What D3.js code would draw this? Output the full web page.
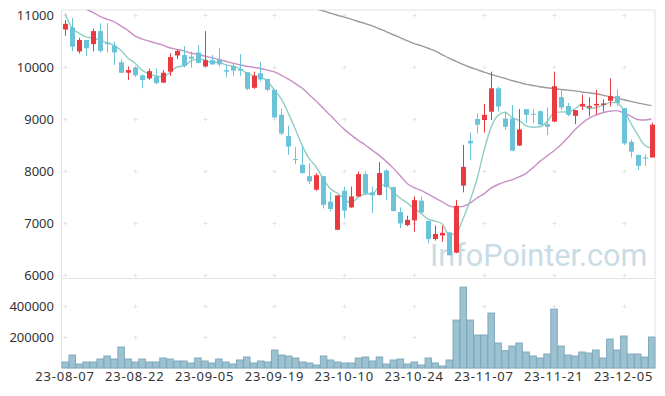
<!DOCTYPE html>
<html>
<head>
<meta charset="utf-8" />
<style>
body { margin: 0; background: #fff; }
svg { display: block; font-family: "Noto Sans", sans-serif; }
</style>
<script src="https://cdnjs.cloudflare.com/ajax/libs/d3/7.8.5/d3.min.js"></script>
</head>
<body>
<div id="chart"></div>
<script>
var dates = [
  "23-08-07","23-08-08","23-08-09","23-08-10","23-08-11","23-08-14","23-08-16","23-08-17","23-08-18","23-08-21",
  "23-08-22","23-08-23","23-08-24","23-08-25","23-08-28","23-08-29","23-08-30","23-08-31","23-09-01","23-09-04",
  "23-09-05","23-09-06","23-09-07","23-09-08","23-09-11","23-09-12","23-09-13","23-09-14","23-09-15","23-09-18",
  "23-09-19","23-09-20","23-09-21","23-09-22","23-09-25","23-09-26","23-09-27","23-10-04","23-10-05","23-10-06",
  "23-10-10","23-10-11","23-10-12","23-10-13","23-10-16","23-10-17","23-10-18","23-10-19","23-10-20","23-10-23",
  "23-10-24","23-10-25","23-10-26","23-10-27","23-10-30","23-10-31","23-11-01","23-11-02","23-11-03","23-11-06",
  "23-11-07","23-11-08","23-11-09","23-11-10","23-11-13","23-11-14","23-11-15","23-11-16","23-11-17","23-11-20",
  "23-11-21","23-11-22","23-11-23","23-11-24","23-11-27","23-11-28","23-11-29","23-11-30","23-12-01","23-12-04",
  "23-12-05","23-12-06","23-12-07","23-12-08","23-12-11"
];

var open = [10720,10760,10300,10520,10440,10690,10470,10410,10090,9890,
  9990,9840,9780,9810,9700,9910,10220,10230,10200,10280,
  10010,10130,10150,9940,10020,9960,9900,9600,9880,9770,
  9560,9080,8670,8230,8120,7900,7640,7900,7410,6870,
  7620,7300,7510,7940,7590,7540,8010,7690,7210,6960,
  7050,7430,7040,6690,6760,6820,6430,7720,8580,9000,
  8980,9140,9590,9010,9010,8490,9190,9100,9150,8900,
  8950,9420,9250,9060,9240,9220,9260,9270,9350,9440,
  9210,8560,8310,8260,8260];
var high = [10900,10940,10560,10520,10740,10840,10840,10490,10150,10010,
  10010,9860,9970,9970,9940,10260,10340,10400,10300,10420,
  10690,10230,10360,10040,10070,10250,9900,9910,10100,9770,
  9560,9200,8870,8460,8480,8150,7960,7900,7600,7530,
  7700,7700,7990,7990,7700,8170,8030,7700,7300,7140,
  7510,7510,7040,6950,6950,6830,7440,8500,8740,9110,
  9290,9910,9620,9140,9270,9190,9190,9190,9160,9220,
  9910,9570,9310,9170,9470,9420,9560,9380,9780,9570,
  9210,8600,8310,8320,8930];
var low = [10600,10300,10260,10210,10300,10280,10280,10040,9880,9750,
  9810,9590,9750,9670,9690,9830,10150,9990,9990,10070,
  10000,10040,10010,9800,9830,9830,9550,9580,9720,9540,
  9010,8690,8310,8130,7950,7750,7620,7280,7220,6860,
  7090,7290,7500,7540,7190,7530,7440,7220,6900,6940,
  6830,7190,6610,6660,6640,6370,6420,7590,8210,8720,
  8740,8980,9140,8790,8390,8480,8920,8920,8880,8690,
  8940,9170,9050,8900,9170,9050,9080,9140,9240,9240,
  8500,8260,8020,8100,8260];
var close = [10830,10390,10520,10360,10690,10310,10440,10280,9890,9940,
  9840,9750,9920,9690,9890,10190,10310,10020,10160,10080,
  10130,10050,10050,9910,9930,9930,9580,9830,9760,9560,
  9030,8720,8470,8210,7960,7800,7920,7350,7270,7530,
  7240,7510,7940,7570,7530,7960,7690,7230,6990,7060,
  7440,7200,6690,6790,6810,6380,7330,8080,8530,8890,
  9080,9590,9240,8850,8390,8800,9080,9090,8890,8850,
  9630,9220,9080,9170,9290,9250,9290,9300,9440,9310,
  8530,8370,8100,8240,8890];
var volume = [38700,83850,25800,38700,38700,58000,77400,58000,135450,58000,
  38700,58000,38700,38700,64500,58000,45150,45150,32250,64500,
  45150,32250,58000,38700,25800,51600,71000,32250,45150,38700,
  116000,83850,77400,64500,38700,32250,19350,77400,51600,38700,
  32250,32250,64500,71000,45150,71000,25800,51600,58000,25800,
  38700,19350,64500,32250,12900,51600,309600,522450,309600,212850,
  212850,354750,161250,111800,141900,161250,103200,77400,64500,90300,
  380550,141900,83850,77400,103200,96750,116100,64500,187050,116100,
  206400,90300,90300,70950,199950];

var ma5 = [11030,10750,10650,10580,10558,10520,10464,10416,10322,10172,
  10078,9940,9868,9828,9818,9888,10000,10020,10114,10152,
  10140,10088,10094,10044,10014,9974,9880,9836,9806,9732,
  9552,9380,9108,8798,8478,8232,8072,7848,7660,7574,
  7462,7380,7498,7558,7558,7702,7738,7596,7480,7386,
  7282,7184,7076,7036,6986,6774,6800,7078,7426,7842,
  8382,8834,9066,9130,9030,8974,8872,8842,8850,8942,
  9108,9136,9134,9190,9278,9202,9216,9260,9314,9318,
  9174,8930,8700,8500,8440];
var ma20 = [11250,11200,11140,11110,11050,10975,10920,10872,10790,10705,
  10600,10540,10500,10460,10420,10370,10340,10310,10265,10245,
  10210,10180,10145,10110,10075,10042,10015,9995,9972,9940,
  9905,9840,9765,9680,9590,9465,9340,9205,9070,8930,
  8800,8690,8590,8500,8400,8300,8185,8055,7910,7760,
  7680,7625,7555,7485,7410,7330,7305,7320,7380,7480,
  7560,7670,7740,7790,7830,7885,7950,8060,8180,8285,
  8385,8500,8640,8790,8910,9010,9075,9120,9150,9160,
  9120,9055,8990,8980,9000];
var ma60 = [null,null,null,null,null,null,null,null,null,null,
  null,null,null,null,null,null,null,null,null,null,
  null,null,null,null,null,null,null,null,null,null,
  null,null,null,null,null,null,11115,11080,11035,10995,
  10960,10920,10875,10835,10790,10735,10680,10620,10565,10505,
  10450,10410,10360,10310,10240,10170,10110,10050,9995,9950,
  9900,9860,9820,9780,9740,9705,9670,9645,9620,9600,
  9585,9570,9555,9540,9520,9505,9485,9460,9430,9400,
  9370,9340,9310,9280,9256];

var priceTicks = [11000, 10000, 9000, 8000, 7000, 6000];
var volumeTicks = [400000, 200000];
var dateTicks = ["23-08-07","23-08-22","23-09-05","23-09-19","23-10-10","23-10-24","23-11-07","23-11-21","23-12-05"];

var w = 665, h = 396;
var left = 61.5, right = 655;
var priceTop = 10, priceBottom = 278;
var volTop = 279, volBottom = 368;

var upColor = "#ea3a3f", downColor = "#6cc3d8";

var data = dates.map(function (d, i) {
    return { date: d, o: open[i], h: high[i], l: low[i], c: close[i], v: volume[i],
             ma5: ma5[i], ma20: ma20[i], ma60: ma60[i] };
});

var x = d3.scaleBand().domain(dates).range([left, right]).padding(0);
var bw = x.bandwidth();
var cx = function (d) { return x(d) + bw / 2; };

var y = d3.scaleLinear().domain([5942, 11096]).range([priceBottom, priceTop]);
var yv = d3.scaleLinear().domain([0, 575000]).range([volBottom, volTop]);

var svg = d3.select("#chart").append("svg")
    .attr("width", w)
    .attr("height", h);

svg.append("rect").attr("width", w).attr("height", h).attr("fill", "#fff");

svg.append("defs").append("clipPath").attr("id", "clipPrice")
    .append("rect")
    .attr("x", left).attr("y", priceTop)
    .attr("width", right - left).attr("height", priceBottom - priceTop);

// grid crosses
var crossRows = priceTicks.map(y).concat(volumeTicks.map(yv));
var grid = svg.append("g").attr("stroke", "#e4e4e4").attr("stroke-width", 1);
dateTicks.forEach(function (d) {
    crossRows.forEach(function (ry) {
        var px = Math.round(cx(d)) + 0.5, py = Math.round(ry) + 0.5;
        grid.append("path").attr("d", "M" + (px - 2) + "," + py + "H" + (px + 2) + "M" + px + "," + (py - 2) + "V" + (py + 2));
    });
});

// frame
var frame = svg.append("g").attr("stroke", "#e3e3e3").attr("stroke-width", 1).attr("fill", "none");
frame.append("path").attr("d", "M" + left + "," + priceTop + "H" + right + "V" + volBottom + "H" + left + "Z");
frame.append("path").attr("d", "M" + left + "," + (priceBottom + 0.5) + "H" + right);

// watermark
svg.append("text")
    .attr("x", 430).attr("y", 266)
    .style("font-family", "Roboto, sans-serif")
    .style("font-size", "30.6px")
    .style("fill", "#c9dce6")
    .text("InfoPointer.com");

// price labels
svg.append("g").selectAll("text")
    .data(priceTicks).enter().append("text")
    .attr("x", 54).attr("y", function (d) { return y(d); })
    .attr("dy", "0.35em")
    .attr("text-anchor", "end")
    .style("font-size", "13px").style("fill", "#333")
    .text(function (d) { return d; });

svg.append("g").selectAll("text")
    .data(volumeTicks).enter().append("text")
    .attr("x", 54).attr("y", function (d) { return yv(d); })
    .attr("dy", "0.35em")
    .attr("text-anchor", "end")
    .style("font-size", "13px").style("fill", "#333")
    .text(function (d) { return d; });

svg.append("g").selectAll("text")
    .data(dateTicks).enter().append("text")
    .attr("x", function (d) { return cx(d); })
    .attr("y", 381)
    .attr("text-anchor", "middle")
    .style("font-size", "13px").style("letter-spacing", "0.8px").style("fill", "#333")
    .text(function (d) { return d; });

// volume
svg.append("g").selectAll("rect")
    .data(data).enter().append("rect")
    .attr("x", function (d) { return x(d.date) + 0.5; })
    .attr("y", function (d) { return yv(d.v); })
    .attr("width", bw - 0.5)
    .attr("height", function (d) { return yv(0) - yv(d.v); })
    .attr("fill", "#97bfcf")
    .attr("fill-opacity", 0.95)
    .attr("stroke", "#7fa9bc")
    .attr("stroke-width", 1);

// moving averages
var plot = svg.append("g").attr("clip-path", "url(#clipPrice)");
function maLine(key) {
    return d3.line()
        .defined(function (d) { return d[key] != null; })
        .x(function (d) { return cx(d.date); })
        .y(function (d) { return y(d[key]); })
        .curve(d3.curveMonotoneX);
}
plot.append("path").datum(data).attr("d", maLine("ma60"))
    .attr("fill", "none").attr("stroke", "#9a9a9a").attr("stroke-width", 1.4);
plot.append("path").datum(data).attr("d", maLine("ma20"))
    .attr("fill", "none").attr("stroke", "#c98fc6").attr("stroke-width", 1.4);
plot.append("path").datum(data).attr("d", maLine("ma5"))
    .attr("fill", "none").attr("stroke", "#8fcfc3").attr("stroke-width", 1.4);

// candles
var candle = plot.selectAll("g.candle")
    .data(data).enter().append("g")
    .attr("class", "candle");

candle.append("line")
    .attr("x1", function (d) { return Math.round(cx(d.date)) + 0.5; })
    .attr("x2", function (d) { return Math.round(cx(d.date)) + 0.5; })
    .attr("y1", function (d) { return y(d.h); })
    .attr("y2", function (d) { return y(d.l); })
    .attr("stroke", function (d) { return d.c >= d.o ? upColor : downColor; })
    .attr("stroke-width", 1);

candle.append("rect")
    .attr("x", function (d) { return Math.round(cx(d.date)) + 0.5 - 2.5; })
    .attr("y", function (d) { return y(Math.max(d.o, d.c)); })
    .attr("width", 5)
    .attr("height", function (d) { return Math.max(1, Math.abs(y(d.o) - y(d.c))); })
    .attr("fill", function (d) { return d.c >= d.o ? upColor : downColor; });
</script>
</body>
</html>
